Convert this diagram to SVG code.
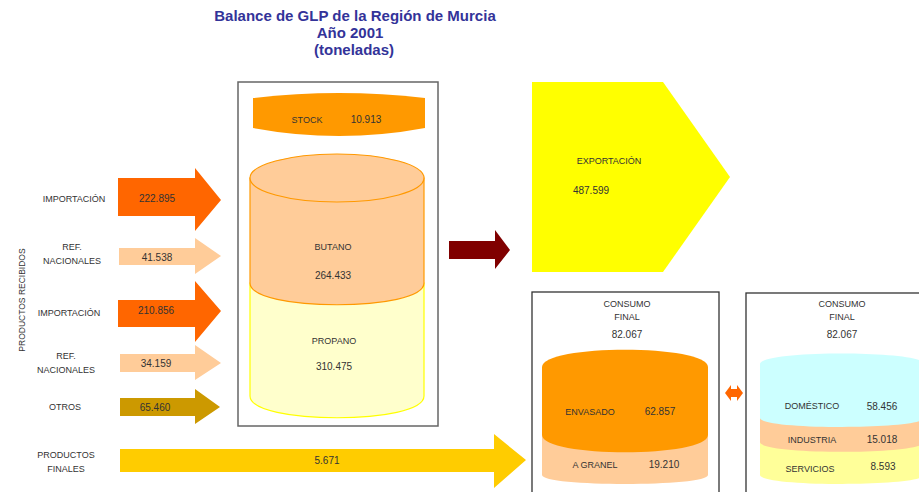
<svg xmlns="http://www.w3.org/2000/svg" width="919" height="492" viewBox="0 0 919 492">
<style>
text{font-family:"Liberation Sans",Arial,sans-serif;fill:#333333;text-anchor:middle}
.lbl{font-size:9px}
.num{font-size:10px}
.title{font-size:15px;font-weight:bold;fill:#333399}
.box{fill:#ffffff;stroke:#666666;stroke-width:1.5}
.box2{fill:none;stroke:#333333;stroke-width:1.3}
</style>
<rect width="919" height="492" fill="#ffffff"/>
<g id="title">
<text class="title" x="355" y="21">Balance de GLP de la Región de Murcia</text>
<text class="title" x="350" y="38">Año 2001</text>
<text class="title" x="354" y="55">(toneladas)</text>
</g>
<g id="productos-recibidos">
<text class="lbl" style="font-size:8.5px" transform="translate(25,300) rotate(-90)">PRODUCTOS RECIBIDOS</text>
</g>
<g id="connectors">
<g id="arrow-importacion-1">
<polygon points="118,178 195,178 195,168 221,200 195,231 195,216 118,216" fill="#FF6600"/>
<text class="lbl" x="74" y="202">IMPORTACIÓN</text>
<text class="num" x="157" y="202">222.895</text>
</g>
<g id="arrow-ref-1">
<polygon points="119,248 195,248 195,238 221,256 195,274 195,265 119,265" fill="#FFCC99"/>
<text class="lbl" x="72" y="250">REF.</text>
<text class="lbl" x="72" y="264">NACIONALES</text>
<text class="num" x="157" y="261">41.538</text>
</g>
<g id="arrow-importacion-2">
<polygon points="118,300 195,300 195,281 221,311 195,342 195,327 118,327" fill="#FF6600"/>
<text class="lbl" x="69" y="316">IMPORTACIÓN</text>
<text class="num" x="156" y="314">210.856</text>
</g>
<g id="arrow-ref-2">
<polygon points="120,354 195,354 195,345 221,363 195,380 195,372 120,372" fill="#FFCC99"/>
<text class="lbl" x="66" y="359">REF.</text>
<text class="lbl" x="66" y="373">NACIONALES</text>
<text class="num" x="156" y="367">34.159</text>
</g>
<g id="arrow-otros">
<polygon points="120,398 195,398 195,389 220,407 195,424 195,416 120,416" fill="#CC9900"/>
<text class="lbl" x="65" y="410">OTROS</text>
<text class="num" x="155" y="411">65.460</text>
</g>
<g id="arrow-productos-finales">
<polygon points="120,449 494,449 494,434 526,460 494,488 494,472 120,472" fill="#FFCC00"/>
<text class="lbl" x="66" y="458">PRODUCTOS</text>
<text class="lbl" x="66" y="472">FINALES</text>
<text class="num" x="327" y="464">5.671</text>
</g>
<g id="arrow-exportacion">
<polygon points="449,241 495,241 495,230 510,250 495,269 495,259 449,259" fill="#800000"/>
</g>
<g id="arrow-stock-down">
<polygon points="327,142 334,142 334,165 338,165 330,174 322,165 327,165" fill="#993300"/>
</g>
<g id="arrow-stock-up">
<polygon points="345,173 353,173 353,149 357,149 349,139 342,149 345,149" fill="#993300"/>
</g>
<g id="arrow-consumo">
<polygon points="725,393 731,385 731,389 737,389 737,385 743,393 737,401 737,397 731,397 731,401" fill="#FF6600"/>
</g>
</g>
<g id="almacen">
<rect class="box" x="238" y="82" width="200" height="344"/>
</g>
<g id="stock">
<path d="M253,98 Q339,88 425,98 L425,128 Q339,144 253,128 Z" fill="#FF9900"/>
<text class="lbl" x="307" y="123">STOCK</text>
<text class="num" x="366" y="123">10.913</text>
</g>
<g id="propano">
<path d="M250,283 L424,283 L424,396 C424,425 250,425 250,396 Z" fill="#FFFFCC" stroke="#FFFF00" stroke-width="1.2"/>
<text class="lbl" x="334" y="344">PROPANO</text>
<text class="num" x="334" y="370">310.475</text>
</g>
<g id="butano">
<path d="M250,178 L250,283 C250,312 424,312 424,283 L424,178 Z" fill="#FFCC99" stroke="#FF9900" stroke-width="1.2"/>
<ellipse cx="337" cy="178" rx="87" ry="24" fill="#FFCC99" stroke="#FF9900" stroke-width="1.2"/>
<text class="lbl" x="333" y="250">BUTANO</text>
<text class="num" x="333" y="279">264.433</text>
</g>
<g id="exportacion">
<polygon points="532,82 663,82 730,177 663,272 532,272" fill="#FFFF00"/>
<text class="lbl" x="609" y="164">EXPORTACIÓN</text>
<text class="num" x="591" y="194">487.599</text>
</g>
<g id="consumo-final-1">
<rect class="box2" x="532" y="292" width="187" height="210"/>
<text class="lbl" x="627" y="307">CONSUMO</text>
<text class="lbl" x="627" y="320">FINAL</text>
<text class="num" x="627" y="338">82.067</text>
</g>
<g id="a-granel">
<path d="M542,420 L708,420 L708,475 C708,487 542,487 542,475 Z" fill="#FFCC99"/>
<text class="lbl" x="595" y="468">A GRANEL</text>
<text class="num" x="664" y="468">19.210</text>
</g>
<g id="envasado">
<path d="M542,367 C542,344 708,344 708,367 L708,435 C708,458 542,458 542,435 Z" fill="#FF9900"/>
<text class="lbl" x="590" y="415">ENVASADO</text>
<text class="num" x="660" y="415">62.857</text>
</g>
<g id="consumo-final-2">
<rect class="box2" x="746" y="293" width="200" height="210"/>
<text class="lbl" x="842" y="307">CONSUMO</text>
<text class="lbl" x="842" y="320">FINAL</text>
<text class="num" x="842" y="338">82.067</text>
</g>
<g id="servicios">
<path d="M760,440 L924,440 L924,475 C924,487 760,487 760,475 Z" fill="#FFFF99"/>
<text class="lbl" x="810" y="472">SERVICIOS</text>
<text class="num" x="883" y="470">8.593</text>
</g>
<g id="industria">
<path d="M760,410 L924,410 L924,442 C924,455 760,455 760,442 Z" fill="#FFCC99"/>
<text class="lbl" x="812" y="443">INDUSTRIA</text>
<text class="num" x="882" y="443">15.018</text>
</g>
<g id="domestico">
<path d="M760,364 C760,350 924,350 924,364 L924,418 C924,430 760,430 760,418 Z" fill="#CCFFFF"/>
<text class="lbl" x="812" y="409">DOMÉSTICO</text>
<text class="num" x="882" y="410">58.456</text>
</g>
</svg>
